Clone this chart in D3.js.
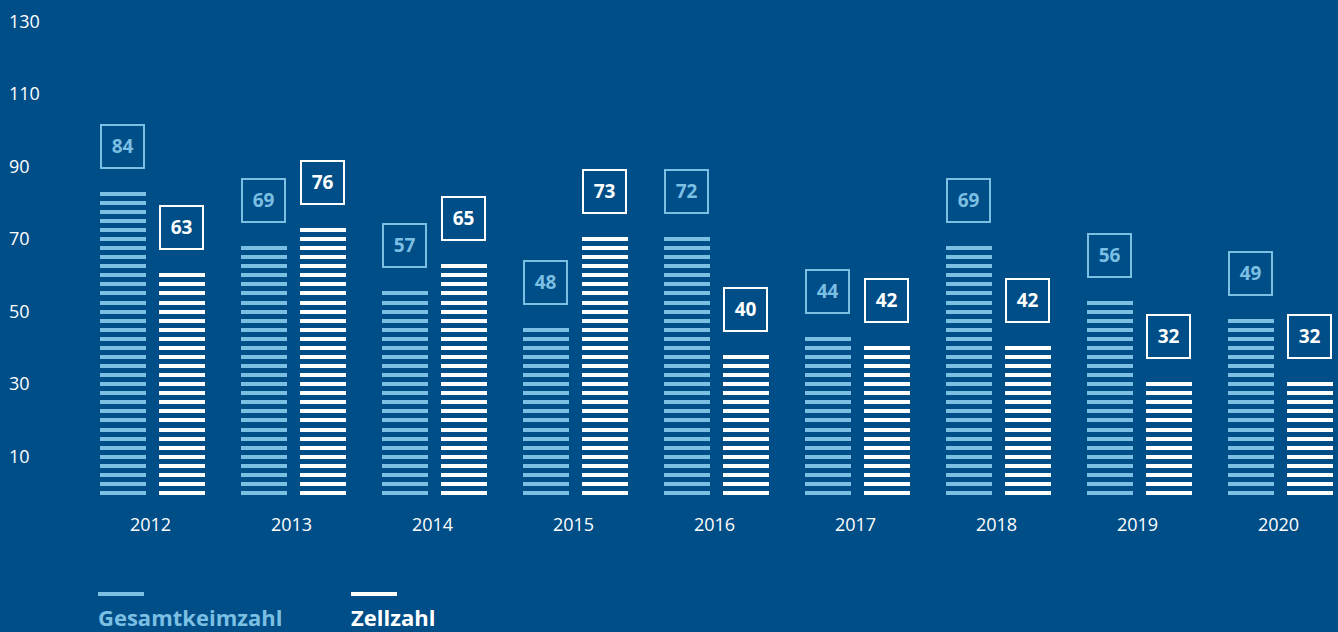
<!DOCTYPE html>
<html lang="de">
<head>
<meta charset="utf-8">
<title>Gesamtkeimzahl und Zellzahl 2012–2020</title>
<script src="https://cdn.jsdelivr.net/npm/d3@7"></script>
<style>
  html, body { margin: 0; padding: 0; background: #004e87; }
  svg { display: block; font-family: "Open Sans", sans-serif; }
</style>
</head>
<body>
<svg id="chart" width="1338" height="632"></svg>
<script>
// Jahreswerte
const years = ["2012", "2013", "2014", "2015", "2016", "2017", "2018", "2019", "2020"];
const gesamtkeimzahl = [84, 69, 57, 48, 72, 44, 69, 56, 49];
const zellzahl = [63, 76, 65, 73, 40, 42, 42, 32, 32];
const seriesNames = ["Gesamtkeimzahl", "Zellzahl"];
const yTicks = [10, 30, 50, 70, 90, 110, 130];

const BG = "#004e87";
const LIGHT = "#7bbfe3";
const WHITE = "#ffffff";
const colors = { Gesamtkeimzahl: LIGHT, Zellzahl: WHITE };

// each stripe stands for this many units
const UNITS_PER_STRIPE = 2.5;
const STRIPE_H = 4;

const svg = d3.select("#chart");

const y = d3.scaleLinear().domain([0, 130]).range([495, 23.3]);

const x0 = d3.scaleBand()
  .domain(years)
  .range([100, 100 + 8 * 141 + 105])
  .paddingInner(36 / 141)
  .paddingOuter(0);

const x1 = d3.scaleBand()
  .domain(seriesNames)
  .range([0, x0.bandwidth()])
  .paddingInner(13 / 59)
  .paddingOuter(0);

// y axis: plain labels, no line
const yAxis = svg.append("g")
  .attr("transform", "translate(9,0)")
  .call(d3.axisRight(y).tickValues(yTicks).tickSize(0).tickPadding(0));
yAxis.select(".domain").remove();
yAxis.selectAll("text")
  .attr("fill", WHITE)
  .attr("font-size", 18)
  .attr("font-family", "Open Sans, sans-serif")
  .attr("dy", "0.35em")
  .attr("y", -2.5);

// x axis: year labels
const xAxis = svg.append("g")
  .attr("transform", "translate(-2,518.6)")
  .call(d3.axisBottom(x0).tickSize(0).tickPadding(0));
xAxis.select(".domain").remove();
xAxis.selectAll("text")
  .attr("fill", WHITE)
  .attr("font-size", 18)
  .attr("font-family", "Open Sans, sans-serif");

// bars as horizontal stripes
const rows = years.map((yr, i) => ({
  year: yr,
  values: [
    { key: "Gesamtkeimzahl", value: gesamtkeimzahl[i] },
    { key: "Zellzahl", value: zellzahl[i] }
  ]
}));

const groups = svg.append("g").selectAll("g")
  .data(rows)
  .join("g")
  .attr("transform", d => `translate(${x0(d.year)},0)`);

const bars = groups.selectAll("g.bar")
  .data(d => d.values.map(v => {
    const n = Math.round(v.value / UNITS_PER_STRIPE);
    return { ...v, n, topY: y((n - 1) * UNITS_PER_STRIPE) - STRIPE_H };
  }))
  .join("g")
  .attr("class", "bar")
  .attr("transform", d => `translate(${x1(d.key)},0)`);

bars.selectAll("rect.stripe")
  .data(d => d3.range(d.n).map(i => ({ key: d.key, i })))
  .join("rect")
  .attr("class", "stripe")
  .attr("x", 0)
  .attr("width", x1.bandwidth())
  .attr("y", d => Math.round(y(d.i * UNITS_PER_STRIPE) - STRIPE_H))
  .attr("height", STRIPE_H)
  .attr("fill", d => colors[d.key]);

// value boxes above each bar
const BOX = 45;
const GAP = 23;
bars.append("rect")
  .attr("x", 1)
  .attr("y", d => Math.round(d.topY) - GAP - BOX + 1)
  .attr("width", BOX - 2)
  .attr("height", BOX - 2)
  .attr("fill", "none")
  .attr("stroke", d => colors[d.key])
  .attr("stroke-width", 2);

bars.append("text")
  .attr("x", BOX / 2)
  .attr("y", d => Math.round(d.topY) - GAP - BOX / 2)
  .attr("dy", "0.36em")
  .attr("text-anchor", "middle")
  .attr("font-size", 19)
  .attr("font-weight", 700)
  .attr("fill", d => colors[d.key])
  .text(d => d.value);

// legend
const legendX = [98, 351];
const legend = svg.append("g").selectAll("g")
  .data(seriesNames)
  .join("g")
  .attr("transform", (d, i) => `translate(${legendX[i]},0)`);

legend.append("rect")
  .attr("x", 0)
  .attr("y", 592)
  .attr("width", 46)
  .attr("height", 4)
  .attr("fill", d => colors[d]);

legend.append("text")
  .attr("x", 0)
  .attr("y", 626)
  .attr("font-size", 22)
  .attr("font-weight", 700)
  .attr("fill", d => colors[d])
  .text(d => d);
</script>
</body>
</html>
